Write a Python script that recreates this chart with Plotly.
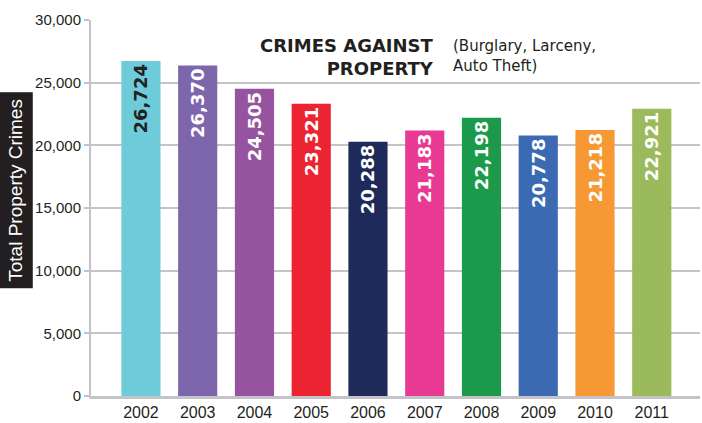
import plotly.graph_objects as go

years = ['2002', '2003', '2004', '2005', '2006', '2007', '2008', '2009', '2010', '2011']
crimes = [26724, 26370, 24505, 23321, 20288, 21183, 22198, 20778, 21218, 22921]
bar_colors = ['#6ECCDA', '#7E66AD', '#9653A0', '#EC2330', '#1E2A5A',
              '#E83A93', '#1B9A4B', '#3B6AB3', '#F69833', '#9BBA5C']
label_colors = ['#222222'] + ['white'] * 9

fig = go.Figure()

fig.add_trace(go.Bar(
    x=years, y=crimes,
    marker=dict(color=bar_colors, line=dict(width=0)),
    width=0.69,
    text=[f'{v:,}' for v in crimes],
    textposition='inside',
    insidetextanchor='end',
    textangle=-90,
    textfont=dict(family='DejaVu Sans', size=18, color=label_colors, weight='bold'),
    cliponaxis=False,
    hovertemplate='%{x}: %{y:,}<extra></extra>'
))

# titulo
fig.add_annotation(
    x=436, y=33, showarrow=False,
    text='<b>CRIMES AGAINST<br>PROPERTY</b>', align='right',
    xanchor='right', yanchor='top',
    font=dict(family='DejaVu Sans', size=18, color='#231f20')
)
fig.add_annotation(
    x=451, y=35, showarrow=False,
    text='(Burglary, Larceny,<br>Auto Theft)', align='left',
    xanchor='left', yanchor='top',
    font=dict(family='DejaVu Sans', size=15, color='#231f20')
)
# titulo do eixo y
fig.add_annotation(
    x=16, y=193, showarrow=False,
    text='Total Property Crimes', textangle=-90,
    xanchor='center', yanchor='middle',
    bgcolor='#231f20', borderpad=6,
    font=dict(family='Liberation Sans', size=19, color='white')
)

# posicoes em pixels para as anotacoes
W, H = 702, 423
ml, mr, mt, mb = 91, 2, 20, 22
for a in fig.layout.annotations:
    a.xref = 'paper'
    a.yref = 'paper'
    a.x = (a.x - ml) / (W - ml - mr)
    a.y = 1 - (a.y - mt) / (H - mt - mb)

fig.update_layout(
    width=W, height=H,
    margin=dict(l=ml, r=mr, t=mt, b=mb),
    plot_bgcolor='white', paper_bgcolor='white',
    showlegend=False,
    font=dict(family='Liberation Sans', color='#231f20'),
    xaxis=dict(
        range=[-0.88, 9.85], showgrid=False,
        showline=True, linecolor='#c4c4c8', linewidth=3,
        ticks='', tickfont=dict(size=16)
    ),
    yaxis=dict(
        range=[0, 30000], dtick=5000, tickformat=',',
        showgrid=True, gridcolor='#c4c4c8', gridwidth=2,
        showline=True, linecolor='#c4c4c8', linewidth=2,
        ticks='outside', ticklen=5, tickcolor='#c4c4c8', tickwidth=2,
        tickfont=dict(size=15), zeroline=False
    )
)

fig.write_html('out.html', config={'displayModeBar': False},
               post_script="document.body.style.margin='0';")
